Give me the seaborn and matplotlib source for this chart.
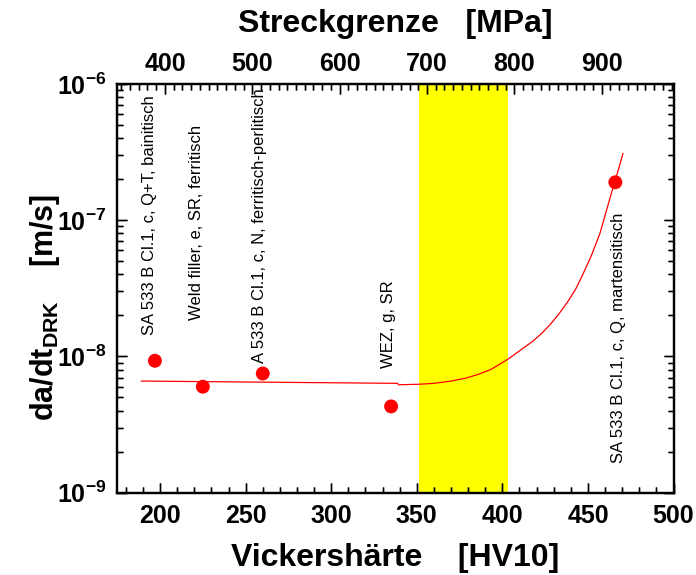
import matplotlib
matplotlib.use("Agg")
import matplotlib.pyplot as plt
import seaborn as sns
import pandas as pd
from matplotlib.ticker import MultipleLocator, LogLocator, NullFormatter

# ---- data ----
hv_points = [197, 225, 260, 335, 466]
rate_points = [9.3e-9, 6.0e-9, 7.5e-9, 4.3e-9, 1.9e-7]

line1_hv = [189, 339]
line1_rate = [6.6e-9, 6.35e-9]

curve_hv = [339, 351, 360, 370, 379, 386, 393, 398, 403.5, 410, 418, 423, 428, 433, 438, 443,
            447, 452, 457, 461, 465, 468, 470.5]
curve_rate = [6.2e-9, 6.25e-9, 6.35e-9, 6.6e-9, 6.95e-9, 7.4e-9, 8.0e-9, 8.7e-9, 9.6e-9,
              1.1e-8, 1.3e-8, 1.48e-8, 1.72e-8, 2.05e-8, 2.5e-8, 3.15e-8,
              4.0e-8, 5.5e-8, 8.0e-8, 1.2e-7, 1.8e-7, 2.4e-7, 3.1e-7]

band_hv = [351.5, 403.5]

labels = ["SA 533 B Cl.1, c, Q+T, bainitisch",
          "Weld filler, e, SR, ferritisch",
          "A 533 B Cl.1, c, N, ferritisch-perlitisch",
          "WEZ, g, SR",
          "SA 533 B Cl.1, c, Q, martensitisch"]
label_hv = [194.1, 221.4, 258.0, 333.3, 467.6]
label_rate = [1.43e-8, 1.85e-8, 8.9e-9, 8.2e-9, 1.65e-9]

x_ticks = [200, 250, 300, 350, 400, 450, 500]
y_ticks = [1e-9, 1e-8, 1e-7, 1e-6]
y_ticklabels = [r"$\mathbf{10^{-9}}$", r"$\mathbf{10^{-8}}$", r"$\mathbf{10^{-7}}$", r"$\mathbf{10^{-6}}$"]
top_ticks = [400, 500, 600, 700, 800, 900]

# ---- style ----
plt.rcdefaults()
sns.set_style("white", rc={
    "axes.axisbelow": False,
    "xtick.bottom": True, "ytick.left": True,
    "xtick.color": "black", "ytick.color": "black",
    "text.color": "black", "axes.labelcolor": "black",
    "axes.edgecolor": "black",
})
plt.rcParams["font.family"] = ["Liberation Sans", "DejaVu Sans"]
plt.rcParams["mathtext.fontset"] = "custom"
plt.rcParams["mathtext.rm"] = "Liberation Sans"
plt.rcParams["mathtext.bf"] = "Liberation Sans:bold"
plt.rcParams["mathtext.it"] = "Liberation Sans:italic"

fig = plt.figure(figsize=(6.96, 5.75), dpi=100)
ax = fig.add_axes([0.1685, 0.1431, 0.7992, 0.7108])

ax.axvspan(band_hv[0], band_hv[1], color="#ffff00", zorder=0, lw=0)

red = "#ff0000"
df1 = pd.DataFrame({"hv": line1_hv, "rate": line1_rate})
dfc = pd.DataFrame({"hv": curve_hv, "rate": curve_rate})
dfp = pd.DataFrame({"hv": hv_points, "rate": rate_points})
sns.lineplot(data=df1, x="hv", y="rate", ax=ax, color=red, lw=0.9, sort=False, estimator=None, zorder=3)
sns.lineplot(data=dfc, x="hv", y="rate", ax=ax, color=red, lw=0.9, sort=False, estimator=None, zorder=3)
sns.scatterplot(data=dfp, x="hv", y="rate", ax=ax, color=red, s=100, edgecolor="none", zorder=4)

ax.set_yscale("log")
ax.set_xlim(175, 500)
ax.set_ylim(1e-9, 1e-6)

for t, x, y in zip(labels, label_hv, label_rate):
    ax.text(x, y, t, rotation=90, ha="center", va="bottom", fontsize=12, color="black", zorder=5)

ax.set_xticks(x_ticks)
ax.set_xticklabels([str(v) for v in x_ticks])
ax.set_yticks(y_ticks)
ax.set_yticklabels(y_ticklabels)
ax.xaxis.set_minor_locator(MultipleLocator(10))
ax.yaxis.set_minor_locator(LogLocator(base=10, subs=[2, 3, 4, 5, 6, 7, 8, 9]))
ax.yaxis.set_minor_formatter(NullFormatter())

ax.tick_params(which="both", direction="in", bottom=True, left=True, top=False, right=True,
               width=1.0, color="black")
ax.tick_params(which="major", length=7)
ax.tick_params(which="minor", length=4.5)
ax.tick_params(axis="both", which="major", labelsize=18, pad=8, labelcolor="black")
for lab in ax.get_xticklabels() + ax.get_yticklabels():
    lab.set_fontweight("bold")
for sp in ax.spines.values():
    sp.set_linewidth(1.6)

ax.set_xlabel("Vickershärte    [HV10]", fontsize=23, fontweight="bold", labelpad=11)
ax.set_ylabel(r"da/dt$_{\mathbf{DRK}}$    [m/s]", fontsize=22, fontweight="bold")
ax.yaxis.set_label_coords(-0.10, 0.454)

ax2 = ax.twiny()
ax2.set_xlim(345.4, 982.2)
ax2.set_xticks(top_ticks)
ax2.set_xticklabels([str(v) for v in top_ticks])
ax2.xaxis.set_minor_locator(MultipleLocator(10))
ax2.tick_params(which="both", direction="in", top=True, bottom=False, width=1.0, color="black")
ax2.tick_params(which="major", length=7, labelsize=18, pad=6, labelcolor="black")
ax2.tick_params(which="minor", length=4.5)
for lab in ax2.get_xticklabels():
    lab.set_fontweight("bold")
for sp in ax2.spines.values():
    sp.set_linewidth(1.6)
ax2.set_xlabel("Streckgrenze   [MPa]", fontsize=23, fontweight="bold", labelpad=14)

# ---- explicit inward tick strokes (drawn as line collections at the axis tick locations) ----
fig.canvas.draw()
bbox = ax.get_window_extent()
maj_px, min_px = 9.5, 6.0
fx_maj, fx_min = maj_px / bbox.width, min_px / bbox.width
fy_maj, fy_min = maj_px / bbox.height, min_px / bbox.height
kw = dict(colors="black", linewidths=1.0, clip_on=False, zorder=6)

xt = ax.get_xaxis_transform()
xmaj = [v for v in ax.xaxis.get_majorticklocs() if 175 <= v <= 500]
xmin = [v for v in ax.xaxis.get_minorticklocs() if 175 <= v <= 500]
ax.vlines(xmaj, 0, fy_maj, transform=xt, **kw)
ax.vlines(xmin, 0, fy_min, transform=xt, **kw)

yt = ax.get_yaxis_transform()
ymaj = [v for v in ax.yaxis.get_majorticklocs() if 1e-9 <= v <= 1e-6]
ymin = [v for v in ax.yaxis.get_minorticklocs() if 1e-9 <= v <= 1e-6]
ax.hlines(ymaj, 0, fx_maj, transform=yt, **kw)
ax.hlines(ymin, 0, fx_min, transform=yt, **kw)
ax.hlines(ymaj, 1 - fx_maj, 1, transform=yt, **kw)
ax.hlines(ymin, 1 - fx_min, 1, transform=yt, **kw)

xt2 = ax2.get_xaxis_transform()
lo2, hi2 = ax2.get_xlim()
tmaj = [v for v in ax2.xaxis.get_majorticklocs() if lo2 <= v <= hi2]
tmin = [v for v in ax2.xaxis.get_minorticklocs() if lo2 <= v <= hi2]
ax2.vlines(tmaj, 1 - fy_maj, 1, transform=xt2, **kw)
ax2.vlines(tmin, 1 - fy_min, 1, transform=xt2, **kw)
ax2.set_xlim(lo2, hi2)
ax.set_xlim(175, 500)
ax.set_ylim(1e-9, 1e-6)

fig.savefig("out.png", dpi=100)
